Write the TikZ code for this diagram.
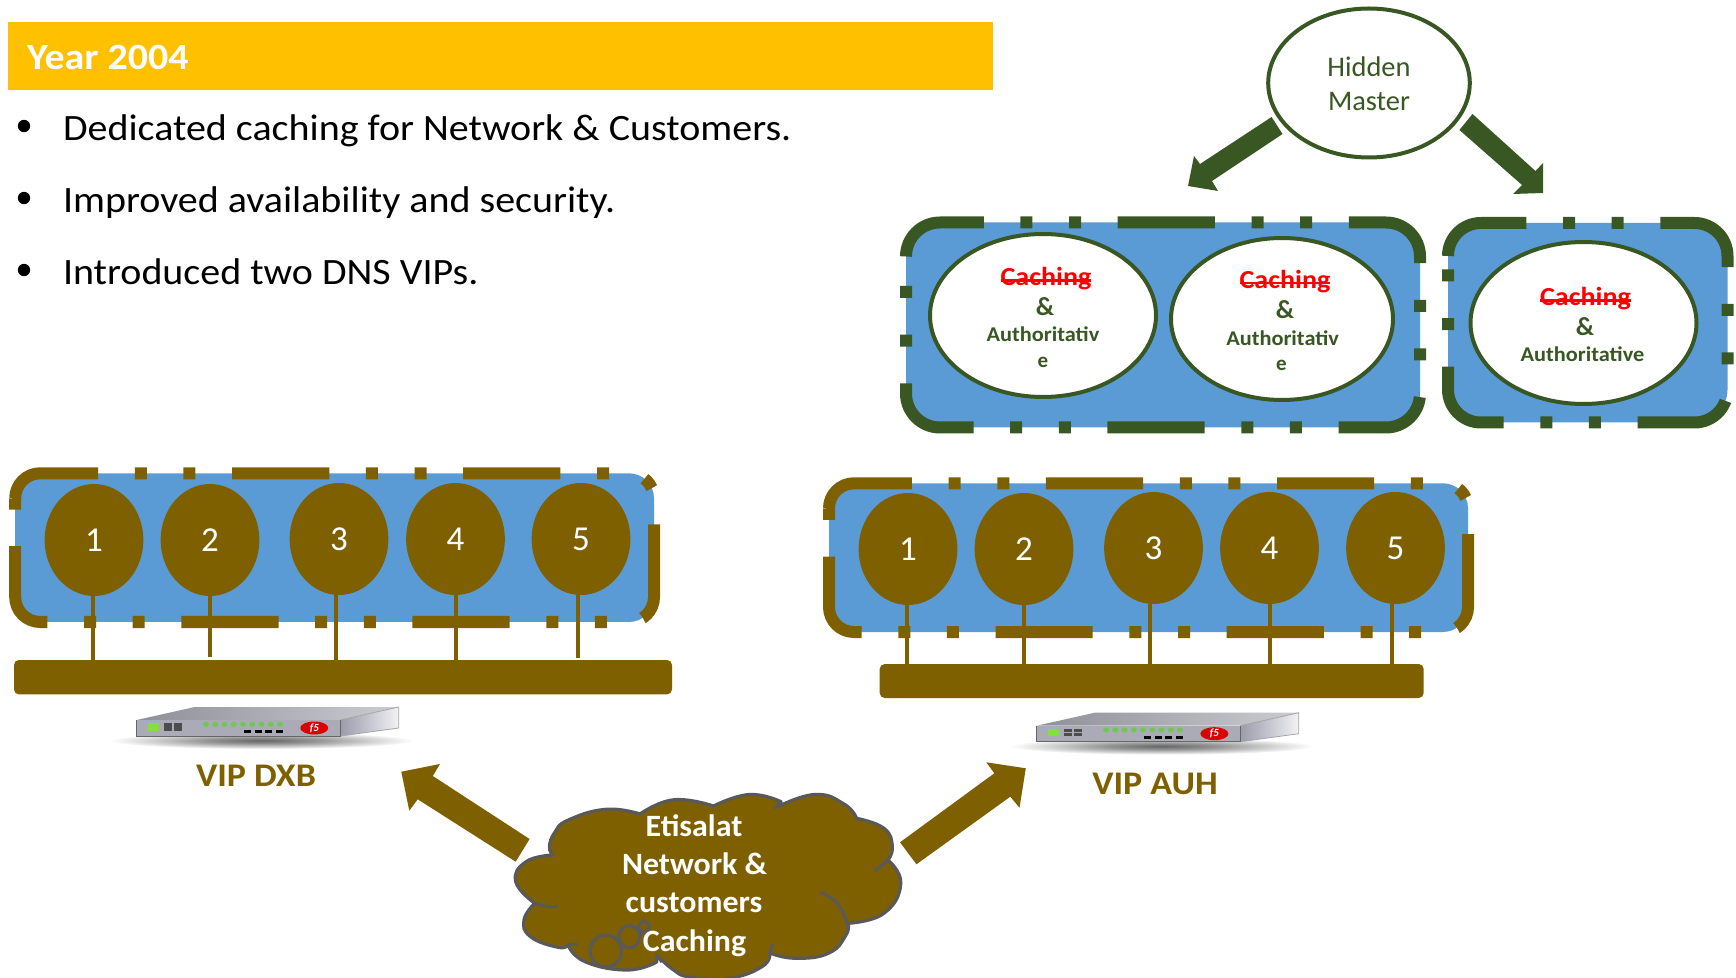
\documentclass[tikz,border=0pt]{standalone}
\usepackage{fontspec}
\usepackage{graphicx}
\setmainfont{Carlito}
\usetikzlibrary{shapes.geometric}
\definecolor{olivebrown}{HTML}{7F6000}
\definecolor{darkgreen}{HTML}{385723}
\definecolor{boxblue}{HTML}{5B9BD5}
\definecolor{amberbar}{HTML}{FFC000}
\definecolor{cloudline}{HTML}{595959}
\definecolor{devfront}{HTML}{ABABB8}
\definecolor{devtopl}{HTML}{8F8F98}
\definecolor{devtopr}{HTML}{CBCBD2}
\definecolor{devsidel}{HTML}{9C9CAC}
\definecolor{devsider}{HTML}{F2F2F6}
\definecolor{devled}{HTML}{7FE040}
\definecolor{devdot}{HTML}{6FC850}
\pgfdeclareradialshading{devshadow}{\pgfpoint{0bp}{0bp}}{color(0bp)=(black!60); color(9bp)=(black!42); color(25bp)=(white); color(50bp)=(white)}
\newcommand{\hs}[2]{\scalebox{#1}[1]{#2}}
\tikzset{
  txt/.style={anchor=base,inner sep=0pt,outer sep=0pt},
  srv/.style={ellipse,fill=olivebrown,inner sep=0pt,minimum width=49.4pt,minimum height=56pt,text=white,font=\fontsize{17.5}{17.5}\selectfont},
  auth/.style={ellipse,draw=darkgreen,fill=white,line width=2pt,inner sep=0pt},
  wire/.style={draw=olivebrown,line width=2pt},
  bartop/.style={fill=olivebrown,rounded corners=2.5pt,inner sep=0pt},
  blockg/.style={fill=darkgreen},
  blockb/.style={fill=olivebrown},
  strikefont/.style={text=red,font=\fontsize{13}{13}\bfseries\selectfont},
  strikeline/.style={draw=red,line width=1.2pt},
  ampfont/.style={text=darkgreen,font=\fontsize{13}{13}\bfseries\selectfont},
  authfont/.style={text=darkgreen,font=\fontsize{10.5}{11}\bfseries\selectfont},
  bullettext/.style={txt,anchor=base west,font=\fontsize{18.6}{20}\selectfont},
  viplabel/.style={txt,text=olivebrown,font=\fontsize{16.5}{17}\bfseries\selectfont},
  cloudtext/.style={txt,text=white,font=\fontsize{15.5}{16}\bfseries\selectfont},
}
% l t r b radius colour
\newcommand{\groupbox}[6]{%
  \path[fill=boxblue,draw=#6,line width=6pt,line cap=butt,
    dash pattern=on 48.6pt off 18.32pt on 6pt off 18.32pt on 6pt off 18.32pt]
    (#1,#2+#5) .. controls (#1,#2+0.448*#5) and (#1+0.448*#5,#2) .. (#1+#5,#2)
    -- (#3-#5,#2) .. controls (#3-0.448*#5,#2) and (#3,#2+0.448*#5) .. (#3,#2+#5)
    -- (#3,#4-#5) .. controls (#3,#4-0.448*#5) and (#3-0.448*#5,#4) .. (#3-#5,#4)
    -- (#1+#5,#4) .. controls (#1+0.448*#5,#4) and (#1,#4-0.448*#5) .. (#1,#4-#5)
    -- cycle;}
% x y name
\newcommand{\fivedev}[3]{%
  \begin{scope}[shift={(#1,#2)}]
    \path[shading=devshadow] (125,20.5) ellipse [x radius=152,y radius=8.5];
    \path[left color=devtopl,right color=devtopr] (0,0) -- (58,-13) -- (262,-13) -- (204,0) -- cycle;
    \path[left color=devsidel,right color=devsider,draw=black!35,line width=0.4pt] (204,0) -- (262,-13) -- (262,8) -- (204,16) -- cycle;
    \path[fill=devfront] (0,0) rectangle (204,16);
    \draw[black!60,line width=0.5pt] (0,0) -- (0,16) -- (204,16) -- (204,0);
    \fill[devled] (11.6,3.3) rectangle (22.6,10.7);
    \foreach \xx in {27.3,37.3}{
      \fill[black!70] (\xx,3.3) rectangle (\xx+7.8,6.5);
      \fill[black!70] (\xx,7.3) rectangle (\xx+7.8,10.5);}
    \foreach \nn in {0,...,8}{
      \fill[devdot] (69.3+\nn*9.25,4.3) ellipse [x radius=3,y radius=2.6];}
    \foreach \xx in {110.3,121.3,131.6,142.6}{
      \fill[black] (\xx-3.5,9.8) rectangle (\xx+3.5,12.8);}
    \node[ellipse,fill=red!85!black,minimum width=14pt,minimum height=6.5pt,inner sep=0pt,text=white,
      font=\fontsize{5.5}{5.5}\bfseries\itshape\selectfont] (#3) at (177.6,8) {f5};
  \end{scope}}
\begin{document}
\begin{tikzpicture}[x=0.5pt,y=-0.5pt]
\useasboundingbox (0,0) rectangle (1736,978);

% header
\fill[amberbar] (8,22) rectangle (993,90);
\node[txt,anchor=base west,text=white,font=\fontsize{18.5}{20}\bfseries\selectfont] (title) at (27,69.5) {\hs{1.08}{Year 2004}};

% bullets
\fill (24,126) circle [radius=6.2];
\fill (24,198) circle [radius=6.2];
\fill (24,270) circle [radius=6.2];
\node[bullettext] (b1) at (63,140.5) {\hs{1.075}{Dedicated caching for Network \& Customers.}};
\node[bullettext] (b2) at (63,212.5) {\hs{1.075}{Improved availability and security.}};
\node[bullettext] (b3) at (63,284.5) {\hs{1.075}{Introduced two DNS VIPs.}};

% hidden master
\node[auth,minimum width=100.8pt,minimum height=74.5pt] (hm) at (1369,83) {};
\node[txt,text=darkgreen,font=\fontsize{14.2}{15}\selectfont] (hm1) at (1369,76.5) {Hidden};
\node[txt,text=darkgreen,font=\fontsize{14.2}{15}\selectfont] (hm2) at (1369,110.5) {Master};
\path[blockg] (1271.6,117) -- (1282.5,134) -- (1212,181) -- (1218,191) -- (1188,186) -- (1194,156) -- (1200,164) -- cycle;
\path[blockg] (1472.5,114) -- (1535.5,171) -- (1543,163) -- (1543,193) -- (1513,194) -- (1522,185) -- (1459.4,130) -- cycle;

% green boxes
\groupbox{906}{222.5}{1420}{427.5}{34}{darkgreen}
\groupbox{1448}{223}{1727.5}{422.5}{33}{darkgreen}
\node[auth,minimum width=113pt,minimum height=81.5pt] (a1) at (1043,315.5) {};
\node[auth,minimum width=111pt,minimum height=81pt] (a2) at (1282,319) {};
\node[auth,minimum width=113pt,minimum height=81pt] (a3) at (1583.5,323) {};

\node[txt,strikefont] (c1) at (1046,286) {\hs{1.08}{Caching}};
\draw[strikeline] ([yshift=2.8pt]c1.base west) -- ([yshift=2.8pt]c1.base east);
\node[txt,ampfont] (m1) at (1045,315.5) {\&};
\node[txt,authfont] (t1) at (1043,341.7) {\hs{1.063}{Authoritativ}};
\node[txt,authfont] (e1) at (1043,367.7) {e};

\node[txt,strikefont] (c2) at (1285,288.5) {\hs{1.08}{Caching}};
\draw[strikeline] ([yshift=2.8pt]c2.base west) -- ([yshift=2.8pt]c2.base east);
\node[txt,ampfont] (m2) at (1285,319) {\&};
\node[txt,authfont] (t2) at (1282.6,345.7) {\hs{1.063}{Authoritativ}};
\node[txt,authfont] (e2) at (1281.5,370.7) {e};

\node[txt,strikefont] (c3) at (1585.5,306) {\hs{1.08}{Caching}};
\draw[strikeline] ([yshift=2.8pt]c3.base west) -- ([yshift=2.8pt]c3.base east);
\node[txt,ampfont] (m3) at (1585,335.5) {\&};
\node[txt,authfont] (t3) at (1582.5,361.7) {\hs{1.063}{Authoritative}};

% DXB group
\groupbox{15.2}{473.3}{654}{622}{25}{olivebrown}
\node[bartop,minimum width=329pt,minimum height=17.2pt] (barD) at (343,677.2) {};
\node[srv] (d1) at (94,540) {1};
\node[srv] (d2) at (210,540) {2};
\node[srv] (d3) at (339,539) {3};
\node[srv] (d4) at (455.5,539) {4};
\node[srv] (d5) at (581,539) {5};
\draw[wire] ([xshift=-0.5pt]d1.south) -- ([xshift=-0.5pt]d1.south |- barD.north);
\draw[wire] (d2.south) -- ++(0,61);
\draw[wire] ([xshift=-1.5pt]d3.south) -- ([xshift=-1.5pt]d3.south |- barD.north);
\draw[wire] (d4.south) -- (d4.south |- barD.north);
\draw[wire] ([xshift=-1.7pt]d5.south) -- ++(0,63);
\fivedev{136.7}{720}{fiveD}
\node[viplabel] (vipD) at (256,786.7) {\hs{1.09}{VIP DXB}};

% AUH group
\groupbox{829}{483.3}{1468}{632}{25}{olivebrown}
\node[bartop,minimum width=272pt,minimum height=17pt] (barA) at (1151.7,681) {};
\node[srv] (u1) at (908,549) {1};
\node[srv] (u2) at (1024,549) {2};
\node[srv] (u3) at (1153.5,548) {3};
\node[srv] (u4) at (1269.5,548) {4};
\node[srv] (u5) at (1395.5,548) {5};
\draw[wire] ([xshift=-0.6pt]u1.south) -- ([xshift=-0.6pt]u1.south |- barA.north);
\draw[wire] (u2.south) -- (u2.south |- barA.north);
\draw[wire] ([xshift=-1.7pt]u3.south) -- ([xshift=-1.7pt]u3.south |- barA.north);
\draw[wire] (u4.south) -- (u4.south |- barA.north);
\draw[wire] ([xshift=-2pt]u5.south) -- ([xshift=-2pt]u5.south |- barA.north);
\fivedev{1036.8}{725.7}{fiveA}
\node[viplabel] (vipA) at (1155,794.3) {\hs{1.09}{VIP AUH}};

% cloud arrows
\path[blockb] (529.6,839) -- (432.8,776) -- (440,764) -- (401.3,771.7) -- (409.3,810.7) -- (417.7,799.3) -- (515.7,861.7) -- cycle;
\path[blockb] (900,842.3) -- (994.3,773.3) -- (986.3,762.3) -- (1025.8,768.3) -- (1019.5,807.7) -- (1010.3,796.7) -- (916.4,864.3) -- cycle;

% cloud
\draw[fill=olivebrown,draw=cloudline,line width=1.6pt,line join=round]
  plot[smooth,tension=.8] coordinates {(553,855) (549.4,846.7) (555,832) (568.4,820) (606,809.3) (640,814)}
  -- plot[smooth,tension=.8] coordinates {(640,814) (673.6,799.8) (713.5,806)}
  -- plot[smooth,tension=.8] coordinates {(713.5,806) (749.3,794.5) (781,801.7)}
  -- plot[smooth,tension=.8] coordinates {(775,808) (814.6,794.5) (844,804) (856.6,818.3)}
  -- plot[smooth,tension=.8] coordinates {(856.6,818.3) (884,828.3) (892.4,846.7) (888,860)}
  -- plot[smooth,tension=.8] coordinates {(888,860) (900.8,883.3) (884,913.3) (848,923.3)}
  -- plot[smooth,tension=.8] coordinates {(848,923.3) (846,935) (829,953) (795.6,958.3) (770,953)}
  -- plot[smooth,tension=.8] coordinates {(770,953) (762,966.7) (728,978.5) (690,977) (673.6,970) (656.7,955)}
  -- plot[smooth,tension=.8] coordinates {(656.7,962) (627,970) (585,961.7) (568,945)}
  -- plot[smooth,tension=.8] coordinates {(568,945) (558,947.3) (530.5,936.7) (524,920) (534.7,903.3)}
  -- plot[smooth,tension=.8] coordinates {(534.7,903.3) (515.7,881.7) (526,861.7) (553,855)}
  -- cycle;
\draw[cloudline,line width=1.6pt] plot[smooth,tension=.8] coordinates {(820,892.3) (838,904) (848,926.7)};
\draw[cloudline,line width=1.6pt] (534.7,903.3) .. controls (542,906) and (550,907) .. (557.8,906.7);
\draw[cloudline,line width=1.6pt] (568,945) -- (577.6,944);
\draw[cloudline,line width=1.6pt] (888,860) -- (875,871);
\draw[cloudline,line width=1.6pt] (770,953) -- (772.5,944);
\draw[cloudline,line width=1.6pt] (656.7,955) -- (662,962);
\draw[cloudline,line width=1.6pt] (605.8,951) ellipse [x radius=15.6,y radius=16];
\draw[cloudline,line width=1.6pt] (629.4,936.7) ellipse [x radius=10.5,y radius=11];
\draw[cloudline,line width=1.6pt] (644,926.7) ellipse [x radius=5.5,y radius=5.5];
\node[cloudtext] (k1) at (694,836) {\hs{1.03}{Etisalat}};
\node[cloudtext] (k2) at (694.6,874) {\hs{1.03}{Network \&}};
\node[cloudtext] (k3) at (694,912.7) {\hs{1.03}{customers}};
\node[cloudtext] (k4) at (694.6,951) {\hs{1.03}{Caching}};
\end{tikzpicture}
\end{document}
